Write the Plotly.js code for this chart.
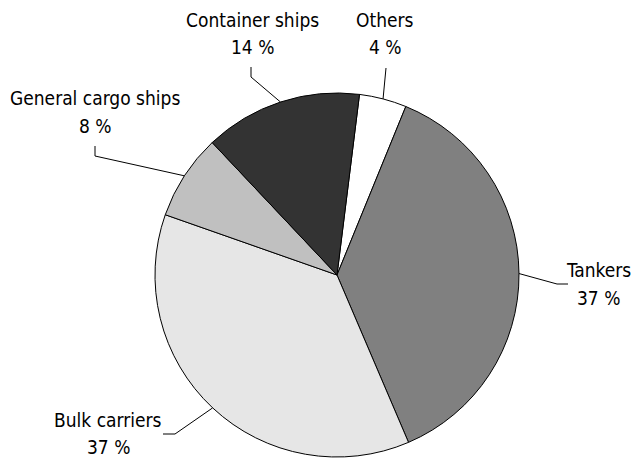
<!DOCTYPE html>
<html><head><meta charset="utf-8">
<script src="https://cdn.plot.ly/plotly-3.0.1.min.js"></script>
<style>html,body{margin:0;padding:0;background:#fff;}#chart{width:637px;height:459px;}</style>
</head><body><div id="chart"></div>
<script>
// ---- data ----
const categories = ["Others", "Tankers", "Bulk carriers", "General cargo ships", "Container ships"];
const shares = [4.2, 37.4, 36.8, 7.6, 14.0];

// ---- styles / layout ----
const sliceColors = ["#ffffff", "#808080", "#e6e6e6", "#c0c0c0", "#333333"];
const W = 637, H = 459;
const CX = 337, CY = 275, R = 182, ROT = 7.1;
// label line centres and leader-line waypoints (pixels), one per category
const labelPos = [
  {tx: 385, y1: 20,  y2: 47,  pts: [[386, 68]]},
  {tx: 598, y1: 270, y2: 298, pts: [[557, 284], [568, 284]]},
  {tx: 108, y1: 420, y2: 447, pts: [[175, 434], [163, 434]]},
  {tx: 95,  y1: 98,  y2: 126, pts: [[95, 156], [95, 146]]},
  {tx: 252, y1: 20,  y2: 47,  pts: [[251, 77], [251, 67]]}
];
const FONT = {family: "'DejaVu Sans Condensed', 'Liberation Sans Narrow', sans-serif", size: 19, color: "#000"};

const px = x => x / W;
const py = y => 1 - y / H;

const total = shares.reduce((a, b) => a + b, 0);
let acc = ROT;
const annotations = [], shapes = [];
shares.forEach((v, i) => {
  const ang = v / total * 360;
  const mid = (acc + ang / 2) * Math.PI / 180;
  acc += ang;
  const ex = CX + R * Math.sin(mid), ey = CY - R * Math.cos(mid);
  const lp = labelPos[i];
  let path = `M ${px(ex)} ${py(ey)}`;
  lp.pts.forEach(p => { path += ` L ${px(p[0])} ${py(p[1])}`; });
  shapes.push({type: "path", xref: "paper", yref: "paper", path: path,
    line: {color: "#000", width: 1}});
  const common = {xref: "paper", yref: "paper", x: px(lp.tx),
    xanchor: "center", yanchor: "middle", showarrow: false, font: FONT};
  annotations.push(Object.assign({}, common, {y: py(lp.y1), text: categories[i]}));
  annotations.push(Object.assign({}, common, {y: py(lp.y2), text: Math.round(v / total * 100) + " %"}));
});

const trace = {
  type: "pie",
  labels: categories,
  values: shares,
  sort: false,
  direction: "clockwise",
  rotation: ROT,
  textinfo: "none",
  hoverinfo: "label+percent",
  marker: {colors: sliceColors, line: {color: "#000", width: 1}},
  domain: {x: [px(CX - R), px(CX + R)], y: [py(CY + R), py(CY - R)]},
  showlegend: false
};

Plotly.newPlot("chart", [trace], {
  width: W, height: H,
  margin: {l: 0, r: 0, t: 0, b: 0},
  paper_bgcolor: "#fff", plot_bgcolor: "#fff",
  showlegend: false,
  annotations: annotations,
  shapes: shapes
}, {displayModeBar: false, staticPlot: true});
</script>
</body></html>
